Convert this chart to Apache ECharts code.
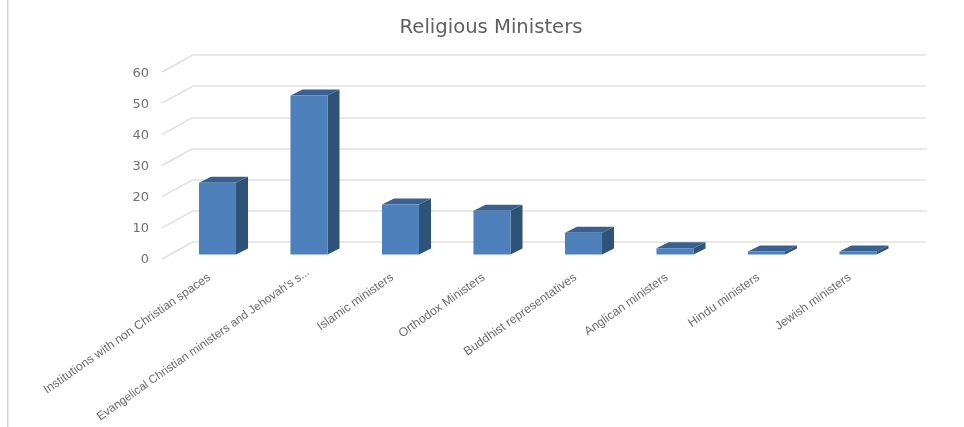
<!DOCTYPE html>
<html>
<head>
<meta charset="utf-8">
<style>html,body{margin:0;padding:0;background:#fff}#c{width:964px;height:427px}</style>
<script src="https://cdn.jsdelivr.net/npm/echarts@6/dist/echarts.min.js"></script>
</head>
<body>
<div id="c"></div>
<script>
const categories = [
  "Institutions with non Christian spaces",
  "Evangelical Christian ministers and Jehovah's s...",
  "Islamic ministers",
  "Orthodox Ministers",
  "Buddhist representatives",
  "Anglican ministers",
  "Hindu ministers",
  "Jewish ministers"
];
const ministers = [23, 51, 16, 14, 7, 2, 1, 1];
const yTicks = [0, 10, 20, 30, 40, 50, 60];

const chart = echarts.init(document.getElementById('c'), null, {renderer: 'canvas'});

function bar3d(params, api) {
  const base = api.coord([api.value(0), 0]);
  const top = api.coord([api.value(0), api.value(1)]);
  const w = api.size([1, 0])[0] * 0.405;
  const dx = 12, dy = -6;
  const l = base[0] - w / 2, r = base[0] + w / 2, b = base[1], t = top[1];
  return {type: 'group', children: [
    {type: 'polygon', shape: {points: [[r, b], [r + dx, b + dy], [r + dx, t + dy], [r, t]]}, style: {fill: '#2f5279'}},
    {type: 'polygon', shape: {points: [[l, t], [l + dx, t + dy], [r + dx, t + dy], [r, t]]}, style: {fill: '#386192'}},
    {type: 'rect', shape: {x: l, y: t, width: w, height: b - t}, style: {fill: '#4e80bc'}}
  ]};
}
function floorLine(params, api) {
  const p = api.coord([0, api.value(0)]);
  return {type: 'line', shape: {x1: p[0], y1: p[1], x2: p[0] - 31, y2: p[1] + 17},
    style: {stroke: '#e0e0e0', lineWidth: 1.5}};
}
const labelBase = {fontFamily: 'Liberation Sans', color: '#6a6a6a'};

chart.setOption({
  animation: false,
  backgroundColor: '#fff',
  title: {
    text: 'Religious Ministers', left: 486, top: 13, textAlign: 'center',
    textStyle: {fontFamily: 'DejaVu Sans', fontSize: 19.6, fontWeight: 'normal', color: '#5f5f5f'}
  },
  graphic: [{type: 'rect', shape: {x: 7, y: 0, width: 1.5, height: 427}, style: {fill: '#d4d4d4'}, silent: true}],
  grid: [
    {left: 162, right: 802, top: 74, height: 186, outerBoundsMode: 'none'},
    {left: 193, right: 38, top: 55, height: 187, outerBoundsMode: 'none'},
    {left: 171.75, width: 732, top: 67.3, height: 187.2, outerBoundsMode: 'none'}
  ],
  xAxis: [
    {gridIndex: 0, type: 'value', min: 0, max: 1, show: false},
    {gridIndex: 1, type: 'value', min: 0, max: 1, show: false},
    {gridIndex: 2, type: 'category', data: categories,
      axisLine: {show: false}, axisTick: {show: false}, splitLine: {show: false},
      axisLabel: {
        interval: 0, rotate: 35, margin: 16,
        formatter: function (v) { return (v.length > 40 ? '{e|' : '{n|') + v + '}'; },
        rich: {
          n: Object.assign({fontSize: 12.2, padding: [0, 10, 0, 0]}, labelBase),
          e: Object.assign({fontSize: 11.7, padding: [0, 1, 0, 0]}, labelBase)
        }
      }}
  ],
  yAxis: [
    {gridIndex: 0, type: 'value', min: 0, max: 60, interval: 10,
      axisLine: {show: false}, axisTick: {show: false}, splitLine: {show: false},
      axisLabel: {margin: 13, fontFamily: 'DejaVu Sans', fontSize: 13, color: '#707070'}},
    {gridIndex: 1, type: 'value', min: 0, max: 60, interval: 10,
      axisLine: {show: false}, axisTick: {show: false}, axisLabel: {show: false},
      splitLine: {show: true, lineStyle: {color: '#e0e0e0', width: 1.5}}},
    {gridIndex: 2, type: 'value', min: 0, max: 60, interval: 10, show: false}
  ],
  series: [
    {type: 'custom', xAxisIndex: 1, yAxisIndex: 1, data: yTicks.map(v => [v]), renderItem: floorLine, silent: true, encode: {y: 0}},
    {type: 'custom', xAxisIndex: 2, yAxisIndex: 2, data: ministers.map((v, i) => [i, v]), renderItem: bar3d, encode: {x: 0, y: 1}}
  ]
});
</script>
</body>
</html>
